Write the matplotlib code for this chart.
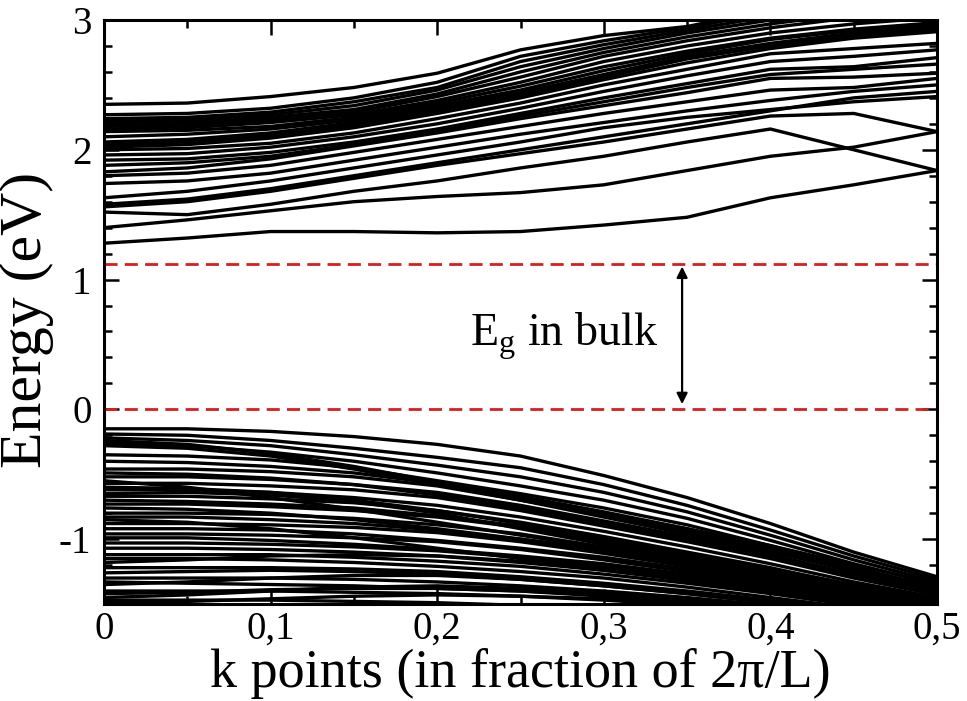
import matplotlib
matplotlib.use("Agg")
import matplotlib.pyplot as plt
from matplotlib.ticker import MultipleLocator

plt.rcParams["font.family"] = ["Liberation Serif", "DejaVu Serif"]

k_points = [0.0, 0.05, 0.1, 0.15, 0.2, 0.25, 0.3, 0.35, 0.4, 0.45, 0.5]

# conduction bands (eV)
cond_bands = [
    [1.28, 1.32, 1.37, 1.37, 1.36, 1.37, 1.42, 1.48, 1.63, 1.73, 1.84],
    [1.40, 1.46, 1.53, 1.60, 1.64, 1.67, 1.73, 1.84, 1.95, 2.02, 2.14],
    [1.52, 1.50, 1.58, 1.68, 1.76, 1.86, 1.95, 2.06, 2.16, 2.00, 1.84],
    [1.56, 1.60, 1.68, 1.78, 1.88, 1.97, 2.06, 2.16, 2.26, 2.28, 2.14],
    [1.58, 1.62, 1.70, 1.80, 1.90, 2.00, 2.10, 2.20, 2.30, 2.40, 2.45],
    [1.63, 1.68, 1.76, 1.86, 1.96, 2.06, 2.17, 2.25, 2.31, 2.37, 2.41],
    [1.74, 1.76, 1.82, 1.92, 2.02, 2.12, 2.21, 2.30, 2.38, 2.45, 2.50],
    [1.80, 1.82, 1.88, 1.98, 2.08, 2.18, 2.28, 2.37, 2.46, 2.48, 2.55],
    [1.83, 1.86, 1.93, 2.03, 2.13, 2.24, 2.34, 2.44, 2.55, 2.56, 2.59],
    [1.88, 1.90, 1.95, 2.04, 2.14, 2.26, 2.37, 2.48, 2.58, 2.62, 2.66],
    [1.92, 1.93, 1.98, 2.06, 2.16, 2.28, 2.40, 2.51, 2.62, 2.64, 2.71],
    [1.96, 1.97, 2.02, 2.10, 2.20, 2.32, 2.45, 2.57, 2.68, 2.72, 2.77],
    [2.00, 2.01, 2.05, 2.13, 2.24, 2.36, 2.50, 2.62, 2.74, 2.78, 2.82],
    [2.02, 2.04, 2.09, 2.17, 2.28, 2.40, 2.54, 2.67, 2.78, 2.86, 2.91],
    [2.04, 2.06, 2.11, 2.19, 2.30, 2.42, 2.56, 2.70, 2.80, 2.88, 2.93],
    [2.06, 2.08, 2.13, 2.21, 2.32, 2.44, 2.58, 2.72, 2.82, 2.90, 2.95],
    [2.10, 2.12, 2.16, 2.23, 2.34, 2.46, 2.61, 2.74, 2.85, 2.92, 2.97],
    [2.14, 2.15, 2.18, 2.25, 2.36, 2.49, 2.64, 2.76, 2.86, 2.93, 2.98],
    [2.16, 2.17, 2.21, 2.27, 2.38, 2.52, 2.68, 2.80, 2.90, 2.97, 3.02],
    [2.18, 2.19, 2.23, 2.29, 2.41, 2.56, 2.72, 2.84, 2.94, 3.02, 3.06],
    [2.20, 2.21, 2.25, 2.31, 2.43, 2.60, 2.75, 2.87, 2.97, 3.05, 3.10],
    [2.22, 2.23, 2.27, 2.34, 2.46, 2.64, 2.78, 2.90, 3.00, 3.08, 3.14],
    [2.24, 2.25, 2.29, 2.37, 2.48, 2.68, 2.81, 2.92, 3.03, 3.12, 3.18],
    [2.27, 2.28, 2.32, 2.40, 2.52, 2.72, 2.84, 2.94, 3.06, 3.15, 3.22],
    [2.35, 2.36, 2.41, 2.48, 2.59, 2.77, 2.88, 2.95, 3.08, 3.18, 3.26],
]

# valence bands (eV)
val_bands = [
    [-0.15, -0.15, -0.17, -0.21, -0.27, -0.36, -0.51, -0.68, -0.88, -1.10, -1.29],
    [-0.19, -0.20, -0.24, -0.30, -0.37, -0.45, -0.58, -0.74, -0.93, -1.13, -1.31],
    [-0.22, -0.24, -0.28, -0.35, -0.43, -0.52, -0.64, -0.79, -0.97, -1.16, -1.33],
    [-0.24, -0.27, -0.34, -0.44, -0.56, -0.68, -0.80, -0.92, -1.05, -1.20, -1.34],
    [-0.26, -0.28, -0.33, -0.40, -0.49, -0.59, -0.70, -0.84, -1.01, -1.19, -1.35],
    [-0.28, -0.30, -0.36, -0.46, -0.58, -0.70, -0.83, -0.96, -1.10, -1.24, -1.36],
    [-0.35, -0.36, -0.39, -0.45, -0.55, -0.65, -0.76, -0.89, -1.05, -1.22, -1.37],
    [-0.40, -0.41, -0.44, -0.49, -0.57, -0.67, -0.79, -0.92, -1.07, -1.23, -1.38],
    [-0.46, -0.46, -0.48, -0.52, -0.59, -0.70, -0.81, -0.94, -1.09, -1.25, -1.39],
    [-0.49, -0.50, -0.53, -0.58, -0.66, -0.76, -0.88, -1.00, -1.14, -1.28, -1.42],
    [-0.52, -0.52, -0.54, -0.58, -0.64, -0.74, -0.86, -0.98, -1.12, -1.27, -1.41],
    [-0.55, -0.60, -0.68, -0.77, -0.87, -0.97, -1.07, -1.17, -1.28, -1.40, -1.50],
    [-0.57, -0.57, -0.59, -0.62, -0.68, -0.78, -0.90, -1.02, -1.15, -1.30, -1.43],
    [-0.60, -0.61, -0.64, -0.70, -0.78, -0.88, -0.99, -1.11, -1.23, -1.35, -1.46],
    [-0.62, -0.62, -0.64, -0.68, -0.74, -0.83, -0.94, -1.06, -1.19, -1.33, -1.45],
    [-0.65, -0.64, -0.66, -0.71, -0.80, -0.92, -1.04, -1.15, -1.27, -1.39, -1.48],
    [-0.67, -0.67, -0.69, -0.72, -0.78, -0.87, -0.98, -1.10, -1.22, -1.36, -1.47],
    [-0.70, -0.71, -0.73, -0.76, -0.82, -0.90, -1.00, -1.12, -1.24, -1.37, -1.48],
    [-0.73, -0.73, -0.75, -0.78, -0.83, -0.91, -1.02, -1.13, -1.25, -1.38, -1.49],
    [-0.76, -0.77, -0.80, -0.85, -0.92, -1.00, -1.09, -1.19, -1.30, -1.42, -1.52],
    [-0.80, -0.80, -0.81, -0.84, -0.89, -0.96, -1.06, -1.17, -1.29, -1.41, -1.51],
    [-0.83, -0.83, -0.85, -0.88, -0.93, -1.00, -1.08, -1.18, -1.29, -1.40, -1.50],
    [-0.85, -0.87, -0.92, -0.99, -1.07, -1.15, -1.23, -1.31, -1.39, -1.46, -1.52],
    [-0.88, -0.88, -0.89, -0.91, -0.95, -1.02, -1.11, -1.21, -1.32, -1.44, -1.54],
    [-0.92, -0.92, -0.93, -0.96, -1.01, -1.07, -1.14, -1.23, -1.33, -1.44, -1.54],
    [-0.96, -0.96, -0.97, -0.99, -1.02, -1.08, -1.16, -1.25, -1.35, -1.46, -1.56],
    [-0.99, -0.99, -1.01, -1.04, -1.08, -1.13, -1.19, -1.27, -1.36, -1.46, -1.56],
    [-1.03, -1.03, -1.04, -1.06, -1.09, -1.14, -1.21, -1.29, -1.38, -1.48, -1.58],
    [-1.07, -1.07, -1.08, -1.10, -1.13, -1.18, -1.24, -1.31, -1.40, -1.49, -1.58],
    [-1.12, -1.12, -1.12, -1.14, -1.17, -1.21, -1.27, -1.34, -1.42, -1.51, -1.60],
    [-1.15, -1.15, -1.16, -1.18, -1.21, -1.25, -1.30, -1.37, -1.45, -1.53, -1.61],
    [-1.18, -1.16, -1.13, -1.12, -1.13, -1.17, -1.24, -1.32, -1.41, -1.50, -1.58],
    [-1.22, -1.22, -1.22, -1.23, -1.25, -1.29, -1.34, -1.40, -1.47, -1.54, -1.62],
    [-1.26, -1.25, -1.24, -1.25, -1.27, -1.31, -1.36, -1.42, -1.49, -1.56, -1.63],
    [-1.30, -1.30, -1.30, -1.31, -1.33, -1.36, -1.40, -1.45, -1.51, -1.57, -1.64],
    [-1.33, -1.34, -1.35, -1.36, -1.38, -1.40, -1.43, -1.48, -1.53, -1.59, -1.65],
    [-1.35, -1.33, -1.30, -1.28, -1.28, -1.31, -1.36, -1.42, -1.49, -1.55, -1.60],
    [-1.40, -1.40, -1.40, -1.41, -1.42, -1.44, -1.47, -1.51, -1.56, -1.61, -1.66],
    [-1.42, -1.41, -1.39, -1.38, -1.38, -1.40, -1.44, -1.49, -1.54, -1.60, -1.65],
    [-1.45, -1.43, -1.40, -1.37, -1.36, -1.38, -1.42, -1.47, -1.52, -1.57, -1.62],
    [-1.47, -1.47, -1.47, -1.48, -1.49, -1.51, -1.53, -1.56, -1.60, -1.64, -1.68],
    [-1.49, -1.48, -1.46, -1.44, -1.43, -1.44, -1.46, -1.50, -1.55, -1.60, -1.66],
]

gap_levels = [0.0, 1.12]      # VBM and bulk CBM
arrow_k = 0.347
arrow_span = [0.04, 1.10]

xtick_vals = [0.0, 0.1, 0.2, 0.3, 0.4, 0.5]
xtick_labels = ["0", "0,1", "0,2", "0,3", "0,4", "0,5"]
ytick_vals = [-1, 0, 1, 2, 3]
ytick_labels = ["-1", "0", "1", "2", "3"]

fig = plt.figure(figsize=(9.67, 7.01), dpi=100)
ax = fig.add_axes([104 / 967, 1 - 604 / 701, 833 / 967, 584 / 701])

for band in cond_bands + val_bands:
    ax.plot(k_points, band, color="black", lw=2.4, solid_joinstyle="miter")

for lvl in gap_levels:
    ax.axhline(lvl, color="#d61f1f", lw=2.0, ls=(0, (4.7, 2.6)))

ax.annotate("", xy=(arrow_k, arrow_span[1]), xytext=(arrow_k, arrow_span[0]),
            arrowprops=dict(arrowstyle="<|-|>", color="black", lw=1.6,
                            mutation_scale=16, shrinkA=0, shrinkB=0))
ax.text(0.2195, 0.49, r"E$_\mathregular{g}$ in bulk", fontsize=33,
        ha="left", va="baseline")

ax.set_xlim(0, 0.5)
ax.set_ylim(-1.5, 3)
ax.set_xticks(xtick_vals)
ax.set_xticklabels(xtick_labels)
ax.set_yticks(ytick_vals)
ax.set_yticklabels(ytick_labels)
ax.xaxis.set_minor_locator(MultipleLocator(0.05))
ax.yaxis.set_minor_locator(MultipleLocator(0.2))
ax.tick_params(which="both", direction="in", top=True, right=True,
               width=1.8, labelsize=28)
ax.tick_params(which="major", length=11)
ax.tick_params(which="minor", length=6)
ax.tick_params(axis="x", pad=5)
ax.tick_params(axis="y", pad=9)
for sp in ax.spines.values():
    sp.set_linewidth(2.2)

ax.set_xlabel("k points (in fraction of 2\u03c0/L)", fontsize=39)
ax.set_ylabel("Energy (eV)", fontsize=43)
ax.xaxis.set_label_coords(0.5, -0.076)
ax.yaxis.set_label_coords(-0.06, 0.486)

fig.savefig("out.png", dpi=100)
